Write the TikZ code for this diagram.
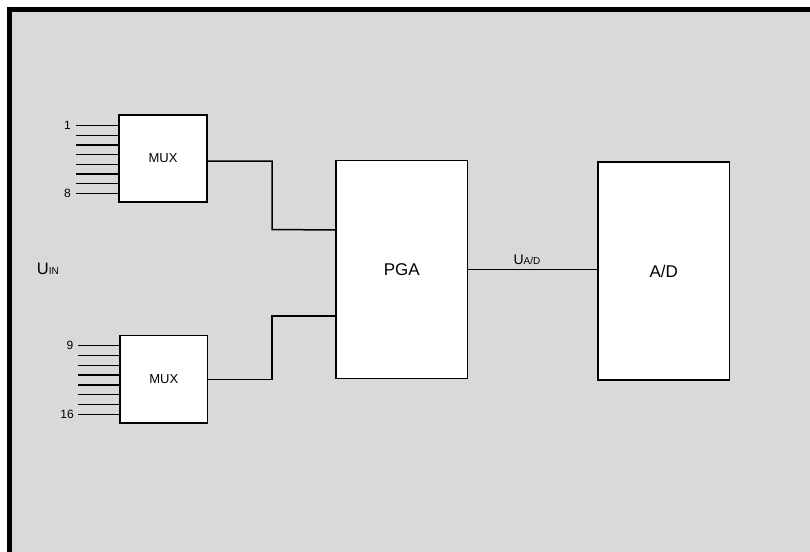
\documentclass[tikz,border=0pt]{standalone}
\usepackage{fontspec}
\setmainfont{Liberation Sans}
\definecolor{bgray}{RGB}{217,217,217}
\begin{document}
\begin{tikzpicture}[x=1pt,y=-1pt,
  blk/.style={draw=black,line width=1.5pt,fill=white,inner sep=0pt},
  wire/.style={line width=1.5pt,line join=miter},
  pin/.style={font=\fontsize{12}{12}\selectfont,inner sep=0pt,anchor=east}]
\useasboundingbox (0,0) rectangle (810,551);
\begin{scope}
\clip (0,0) rectangle (810,551);
\draw[line width=4.7pt,fill=bgray] (9.7,9.7) rectangle (830,570);
\end{scope}
% blocks
\node[blk,minimum width=88pt,minimum height=87pt,font=\fontsize{13}{13}\selectfont] (mux1) at (163,158.5) {MUX};
\node[blk,minimum width=87.7pt,minimum height=87.3pt,font=\fontsize{13}{13}\selectfont] (mux2) at (163.8,379.3) {MUX};
\node[blk,minimum width=131.3pt,minimum height=218pt,font=\fontsize{17}{17}\selectfont] (pga) at (401.7,269.7) {PGA};
\node[blk,minimum width=131.3pt,minimum height=218pt,font=\fontsize{17}{17}\selectfont] (ad) at (663.7,271) {A/D};
% input pins
\foreach \i in {0,...,7}{
  \coordinate (a\i) at (76,125.7+\i*9.66);
  \draw[wire] (a\i) -- (a\i -| mux1.west);
  \coordinate (b\i) at (78,345.7+\i*9.8);
  \draw[wire] (b\i) -- (b\i -| mux2.west);
}
\node[pin] (l1) at (71,125.7) {1};
\node[pin] (l8) at (71,193.3) {8};
\node[pin] (l9) at (73.5,345.7) {9};
\node[pin] (l16) at (74,414.3) {16};
% connections
\coordinate (p1) at ([yshift=39.7pt]pga.west);
\coordinate (p2) at ([yshift=-46.3pt]pga.west);
\draw[wire] ([yshift=-2.5pt]mux1.east) -| (272,229.5) -- (p1);
\draw[wire] (mux2.east) -| (272,316) -- (p2);
\draw[wire] (pga.east) -- (pga.east -| ad.west);
% labels
\node[anchor=base west,inner sep=0pt] (uin) at (36.7,274) {\fontsize{16.5}{16.5}\selectfont U\fontsize{10}{10}\selectfont IN};
\node[anchor=base west,inner sep=0pt] (uad) at (513.3,264) {\fontsize{14}{14}\selectfont U\fontsize{10}{10}\selectfont A/D};
\end{tikzpicture}
\end{document}
